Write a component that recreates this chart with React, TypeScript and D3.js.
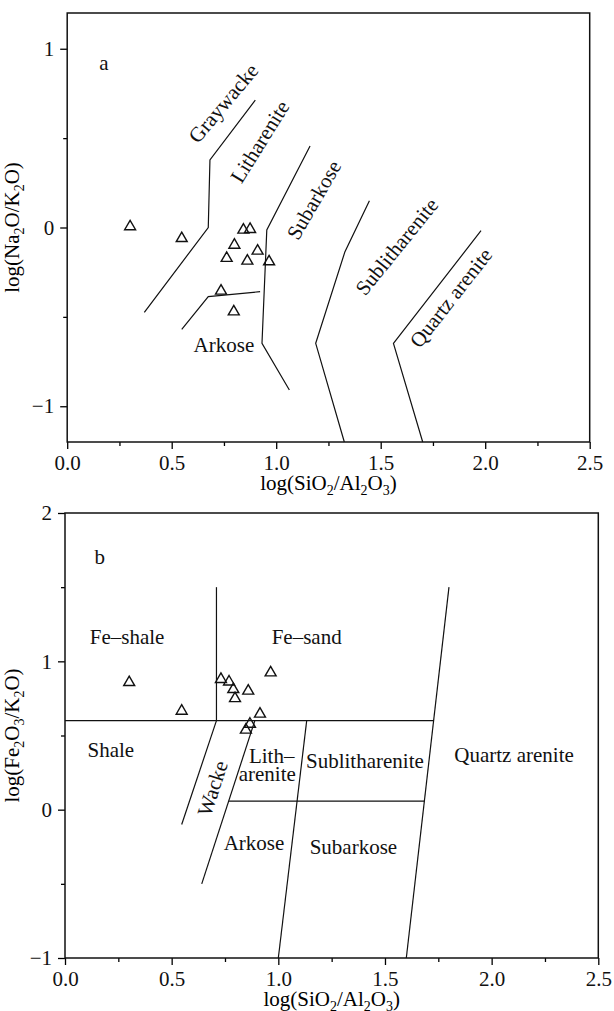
import React, { useEffect, useRef } from "react";
import * as d3 from "d3";

const FONT = "'Liberation Serif', 'Times New Roman', serif";

// shared x axis
const xTicks = [0, 0.5, 1, 1.5, 2, 2.5];
const xMinorTicks = [0.25, 0.75, 1.25, 1.75, 2.25];

// ---- panel a : log(Na2O/K2O) vs log(SiO2/Al2O3)
const aYTicks = [-1, 0, 1];
const aYMinorTicks = [-0.5, 0.5];
const aSampleX = [0.301, 0.548, 0.843, 0.875, 0.8, 0.911, 0.763, 0.862, 0.966, 0.736, 0.797];
const aSampleY = [0.005, -0.061, -0.014, -0.01, -0.098, -0.131, -0.172, -0.187, -0.191, -0.355, -0.471];
const aGraywackeLine = [[0.9, 0.713], [0.683, 0.378], [0.675, 0.0], [0.369, -0.475]];
const aArkoseLine = [[0.548, -0.57], [0.675, -0.387], [0.923, -0.359]];
const aSubarkoseLine = [[1.162, 0.456], [0.955, -0.014], [0.932, -0.648], [1.063, -0.909]];
const aSublithLine = [[1.446, 0.15], [1.329, -0.135], [1.189, -0.648], [1.326, -1.2]];
const aQuartzLine = [[1.98, -0.018], [1.561, -0.648], [1.701, -1.2]];
const aLabelText = ["a", "Graywacke", "Litharenite", "Subarkose", "Sublitharenite", "Quartz arenite", "Arkose"];
const aLabelX = [0.176, 0.747, 0.922, 1.181, 1.577, 1.836, 0.75];
const aLabelY = [0.92, 0.695, 0.48, 0.154, -0.107, -0.394, -0.657];
const aLabelAngle = [0, -50, -58, -60, -51, -52, 0];

// ---- panel b : log(Fe2O3/K2O) vs log(SiO2/Al2O3)
const bYTicks = [-1, 0, 1, 2];
const bYMinorTicks = [-0.5, 0.5, 1.5];
const bSampleX = [0.301, 0.547, 0.731, 0.769, 0.789, 0.797, 0.859, 0.964, 0.914, 0.867, 0.848];
const bSampleY = [0.858, 0.665, 0.879, 0.862, 0.811, 0.75, 0.8, 0.923, 0.645, 0.577, 0.537];
const bVerticalLine = [[0.71, 1.5], [0.71, 0.6]];
const bUpperLine = [[0, 0.6], [1.728, 0.6]];
const bShaleLine = [[0.71, 0.6], [0.547, -0.1]];
const bWackeLine = [[0.89, 0.6], [0.641, -0.5]];
const bLowerLine = [[0.769, 0.058], [1.685, 0.058]];
const bSubarkoseLine = [[1.133, 0.6], [1.0, -1]];
const bQuartzLine = [[1.8, 1.5], [1.6, -1]];
const bLabelText = ["b", "Fe–shale", "Fe–sand", "Shale", "Lith–", "arenite", "Sublitharenite", "Quartz arenite", "Wacke", "Arkose", "Subarkose"];
const bLabelX = [0.163, 0.291, 1.133, 0.215, 0.969, 0.948, 1.406, 2.105, 0.692, 0.886, 1.352];
const bLabelY = [1.705, 1.166, 1.166, 0.402, 0.361, 0.24, 0.328, 0.368, 0.144, -0.223, -0.25];
const bLabelAngle = [0, 0, 0, 0, 0, 0, 0, 0, -72, 0, 0];

// axis titles, [text, subscript?]
const xTitle: [string, boolean][] = [["log(SiO", false], ["2", true], ["/Al", false], ["2", true], ["O", false], ["3", true], [")", false]];
const aYTitle: [string, boolean][] = [["log(Na", false], ["2", true], ["O/K", false], ["2", true], ["O)", false]];
const bYTitle: [string, boolean][] = [["log(Fe", false], ["2", true], ["O", false], ["3", true], ["/K", false], ["2", true], ["O)", false]];

function Title({ parts, x, y, rotate = 0 }: { parts: [string, boolean][]; x: number; y: number; rotate?: number }) {
  let prevSub = false;
  return (
    <text transform={`translate(${x},${y}) rotate(${rotate})`} textAnchor="middle" fontFamily={FONT} fontSize={21}>
      {parts.map(([t, sub], i) => {
        const dy = sub && !prevSub ? 5 : !sub && prevSub ? -5 : 0;
        prevSub = sub;
        return (
          <tspan key={i} dy={dy} fontSize={sub ? 14 : 21}>
            {t}
          </tspan>
        );
      })}
    </text>
  );
}

function Panel(props: any) {
  const { left, right, top, bottom, yDomain, yTicks, yMinor, sx, sy, lines, labelText, labelX, labelY, labelAngle, yTitle, xTitleY } = props;
  const xAxisRef = useRef<SVGGElement>(null);
  const yAxisRef = useRef<SVGGElement>(null);

  const x = d3.scaleLinear().domain([0, 2.5]).range([left, right]);
  const y = d3.scaleLinear().domain(yDomain).range([bottom, top]);

  useEffect(() => {
    const gx = d3.select(xAxisRef.current);
    gx.selectAll("*").remove();
    gx.append("g").call(d3.axisBottom(x).tickValues(xTicks).tickSize(7).tickPadding(6).tickFormat(d3.format(".1f")));
    gx.append("g").call(d3.axisBottom(x).tickValues(xMinorTicks).tickSize(4).tickFormat(() => ""));
    const gy = d3.select(yAxisRef.current);
    gy.selectAll("*").remove();
    gy.append("g").call(d3.axisLeft(y).tickValues(yTicks).tickSize(7).tickPadding(6).tickFormat(d3.format("d")));
    gy.append("g").call(d3.axisLeft(y).tickValues(yMinor).tickSize(4).tickFormat(() => ""));
    [gx, gy].forEach((g) => {
      g.selectAll(".domain").remove();
      g.selectAll("g").attr("font-family", FONT).attr("font-size", 21);
      g.selectAll("line").attr("stroke-width", 1.3);
      g.selectAll("text").attr("fill", "#111");
    });
  });

  const line = d3
    .line<number[]>()
    .x((d) => x(d[0]))
    .y((d) => y(d[1]));
  const tri = d3.symbol().type(d3.symbolTriangle).size(52)();

  return (
    <g>
      <g ref={xAxisRef} transform={`translate(0,${bottom})`} />
      <g ref={yAxisRef} transform={`translate(${left},0)`} />
      {lines.map((l: number[][], i: number) => (
        <path key={i} d={line(l) || ""} fill="none" stroke="#111" strokeWidth={1.2} />
      ))}
      {sx.map((v: number, i: number) => (
        <path key={i} d={tri || ""} transform={`translate(${x(v)},${y(sy[i])})`} fill="none" stroke="#111" strokeWidth={1.4} />
      ))}
      {labelText.map((t: string, i: number) => (
        <text
          key={t + i}
          transform={`translate(${x(labelX[i])},${y(labelY[i])}) rotate(${labelAngle[i]})`}
          textAnchor="middle"
          dominantBaseline="central"
          fontFamily={FONT}
          fontSize={21}
          fill="#111"
        >
          {t}
        </text>
      ))}
      <rect x={left} y={top} width={right - left} height={bottom - top} fill="none" stroke="#111" strokeWidth={1.5} />
      <Title parts={xTitle} x={(left + right) / 2} y={xTitleY} />
      <Title parts={yTitle} x={19} y={(top + bottom) / 2} rotate={-90} />
    </g>
  );
}

export default function App() {
  return (
    <svg width={614} height={1011} style={{ position: "absolute", left: 0, top: 0, background: "#fff" }}>
      <Panel
        left={67.2}
        right={589.7}
        top={13}
        bottom={442}
        yDomain={[-1.2, 1.2]}
        yTicks={aYTicks}
        yMinor={aYMinorTicks}
        sx={aSampleX}
        sy={aSampleY}
        lines={[aGraywackeLine, aArkoseLine, aSubarkoseLine, aSublithLine, aQuartzLine]}
        labelText={aLabelText}
        labelX={aLabelX}
        labelY={aLabelY}
        labelAngle={aLabelAngle}
        yTitle={aYTitle}
        xTitleY={490}
      />
      <Panel
        left={65}
        right={598.3}
        top={513}
        bottom={958}
        yDomain={[-1, 2]}
        yTicks={bYTicks}
        yMinor={bYMinorTicks}
        sx={bSampleX}
        sy={bSampleY}
        lines={[bVerticalLine, bUpperLine, bShaleLine, bWackeLine, bLowerLine, bSubarkoseLine, bQuartzLine]}
        labelText={bLabelText}
        labelX={bLabelX}
        labelY={bLabelY}
        labelAngle={bLabelAngle}
        yTitle={bYTitle}
        xTitleY={1006}
      />
    </svg>
  );
}
